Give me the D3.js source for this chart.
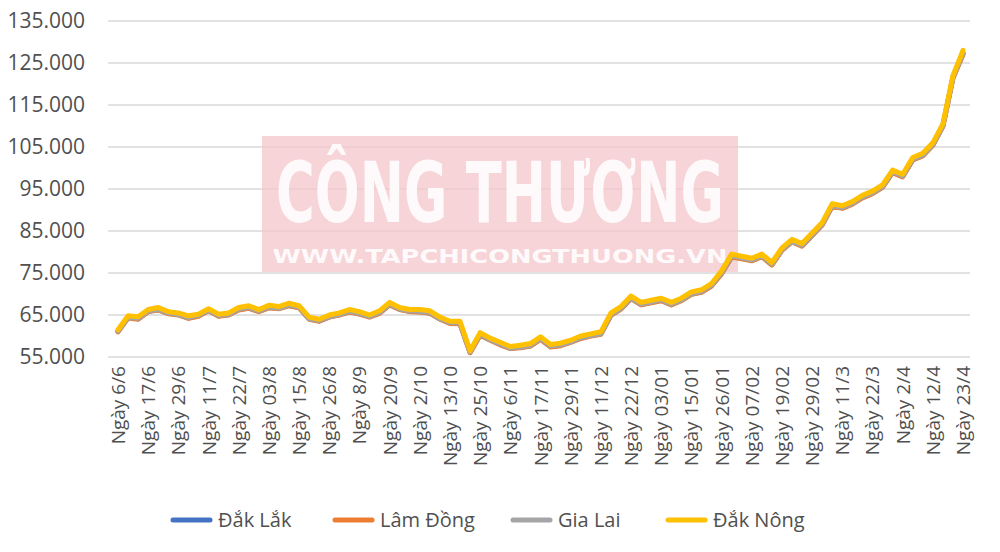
<!DOCTYPE html>
<html><head><meta charset="utf-8">
<script src="https://cdn.jsdelivr.net/npm/d3@7"></script>
<style>body{margin:0;background:#fff}svg{font-family:"Open Sans","Noto Sans",sans-serif}</style>
</head><body><svg id="c" width="1000" height="552"></svg>
<script>
const tickLabels=["Ngày 6/6","Ngày 17/6","Ngày 29/6","Ngày 11/7","Ngày 22/7","Ngày 03/8","Ngày 15/8","Ngày 26/8","Ngày 8/9","Ngày 20/9","Ngày 2/10","Ngày 13/10","Ngày 25/10","Ngày 6/11","Ngày 17/11","Ngày 29/11","Ngày 11/12","Ngày 22/12","Ngày 03/01","Ngày 15/01","Ngày 26/01","Ngày 07/02","Ngày 19/02","Ngày 29/02","Ngày 11/3","Ngày 22/3","Ngày 2/4","Ngày 12/4","Ngày 23/4"];
const yTicks=[55000,65000,75000,85000,95000,105000,115000,125000,135000];
const dakNong=[61.5,64.8,64.6,66.3,66.8,65.8,65.5,64.8,65.2,66.5,65.2,65.5,66.8,67.2,66.3,67.3,67.0,67.8,67.2,64.5,64.0,65.0,65.5,66.3,65.8,65.0,66.0,68.0,66.8,66.3,66.3,66.0,64.5,63.5,63.5,56.5,60.8,59.5,58.5,57.5,57.8,58.2,59.8,58.0,58.3,59.0,60.0,60.5,61.0,65.5,67.0,69.5,68.0,68.5,69.0,68.0,69.0,70.5,71.0,72.5,75.5,79.5,79.0,78.5,79.5,77.5,81.0,83.0,82.0,84.5,87.0,91.5,91.0,92.0,93.5,94.5,96.0,99.5,98.5,102.5,103.5,106.0,110.5,122.0,128.0];
const giaLai=[61.2,64.4,64.2,65.9,66.4,65.5,65.1,64.4,64.9,66.1,64.9,65.1,66.4,66.8,66.0,66.9,66.6,67.4,66.8,64.1,63.7,64.6,65.1,65.9,65.4,64.6,65.6,67.6,66.4,66.0,65.9,65.6,64.1,63.2,63.1,56.2,60.4,59.1,58.1,57.1,57.4,57.8,59.4,57.6,57.9,58.6,59.6,60.1,60.6,65.1,66.6,69.1,67.6,68.1,68.6,67.6,68.6,70.1,70.6,72.1,75.1,79.1,78.6,78.1,79.1,77.1,80.6,82.6,81.6,84.1,86.6,91.1,90.6,91.6,93.1,94.1,95.6,99.1,98.1,102.1,103.1,105.6,110.1,121.6,127.4];
const lamDong=[61.0,64.3,64.0,65.8,66.2,65.3,65.0,64.2,64.7,66.0,64.7,65.0,66.2,66.6,65.8,66.7,66.5,67.2,66.7,64.0,63.5,64.5,65.0,65.7,65.2,64.5,65.4,67.4,66.3,65.8,65.7,65.4,64.0,63.0,62.9,56.0,60.2,59.0,57.9,57.0,57.2,57.6,59.2,57.4,57.7,58.5,59.4,60.0,60.4,64.9,66.4,68.9,67.4,67.9,68.4,67.4,68.4,69.9,70.4,71.9,74.8,78.8,78.4,77.9,78.9,76.9,80.4,82.4,81.4,83.9,86.4,90.9,90.4,91.4,92.9,93.9,95.4,98.9,97.9,101.9,102.9,105.4,109.9,121.4,127.0];
const dakLak=[61.1,64.4,64.1,65.9,66.3,65.4,65.1,64.3,64.8,66.1,64.8,65.1,66.3,66.7,65.9,66.8,66.6,67.3,66.8,64.1,63.6,64.6,65.1,65.8,65.3,64.6,65.5,67.5,66.4,65.9,65.8,65.5,64.1,63.1,63.0,56.1,60.3,59.1,58.0,57.1,57.3,57.7,59.3,57.5,57.8,58.6,59.5,60.1,60.5,65.0,66.5,69.0,67.5,68.0,68.5,67.5,68.5,70.0,70.5,72.0,74.9,78.9,78.5,78.0,79.0,77.0,80.5,82.5,81.5,84.0,86.5,91.0,90.5,91.5,93.0,94.0,95.5,99.0,98.0,102.0,103.0,105.5,110.0,121.5,127.2];
const seriesNames=["Đắk Lắk","Lâm Đồng","Gia Lai","Đắk Nông"];
const colors=["#4472C4","#ED7D31","#A5A5A5","#FFC000"];
const seriesData=[dakLak,lamDong,giaLai,dakNong];
const pointsPerLabel=3;

const svg=d3.select("#c");
const x=d3.scaleLinear().domain([0,dakNong.length-1]).range([118,963]);
const y=d3.scaleLinear().domain([55000,135000]).range([357,21]);
svg.append("g").selectAll("line").data(yTicks).join("line")
 .attr("x1",108).attr("x2",970).attr("y1",d=>y(d)).attr("y2",d=>y(d))
 .attr("stroke","#D9D9D9").attr("stroke-width",1.5);
svg.append("g").selectAll("text").data(yTicks).join("text")
 .attr("x",85).attr("y",d=>y(d)+7).attr("text-anchor","end")
 .attr("font-size",21).attr("fill","#505050").text(d=>d3.format(",")(d).replace(/,/g,"."));
svg.append("rect").attr("x",262).attr("y",136).attr("width",476).attr("height",136).attr("fill","#F4C6CB").attr("opacity",0.75);
svg.append("text").attr("transform","translate(500,222) scale(1,1.3)").attr("text-anchor","middle").attr("font-family","DejaVu Sans, sans-serif")
 .attr("font-weight","bold").attr("font-size",64).attr("fill","#fff").attr("opacity",0.9)
 .attr("textLength",448).attr("lengthAdjust","spacingAndGlyphs").text("CÔNG THƯƠNG");
svg.append("text").attr("x",500).attr("y",263).attr("text-anchor","middle").attr("font-family","DejaVu Sans, sans-serif")
 .attr("font-weight","bold").attr("font-size",20).attr("fill","#fff").attr("opacity",0.9)
 .attr("textLength",455).attr("lengthAdjust","spacingAndGlyphs").text("WWW.TAPCHICONGTHUONG.VN");
svg.append("g").selectAll("text").data(tickLabels).join("text")
 .attr("transform",(d,i)=>`translate(${x(i*pointsPerLabel)+7},366) rotate(-90)`)
 .attr("text-anchor","end").attr("font-size",19).attr("fill","#505050").text(d=>d);
const line=d3.line().x((d,i)=>x(i)).y(d=>y(d*1000));
seriesData.forEach((s,k)=>{
 svg.append("path").attr("d",line(s)).attr("fill","none").attr("stroke",colors[k])
  .attr("stroke-width",5).attr("stroke-linejoin","round").attr("stroke-linecap","round");
});
const lx=[173,335,513,668];
const lg=svg.append("g");
seriesNames.forEach((n,k)=>{
 lg.append("line").attr("x1",lx[k]).attr("x2",lx[k]+37).attr("y1",520).attr("y2",520).attr("stroke",colors[k]).attr("stroke-width",5).attr("stroke-linecap","round");
 lg.append("text").attr("x",lx[k]+45).attr("y",527).attr("font-size",20).attr("fill","#505050").text(n);
});
</script></body></html>
